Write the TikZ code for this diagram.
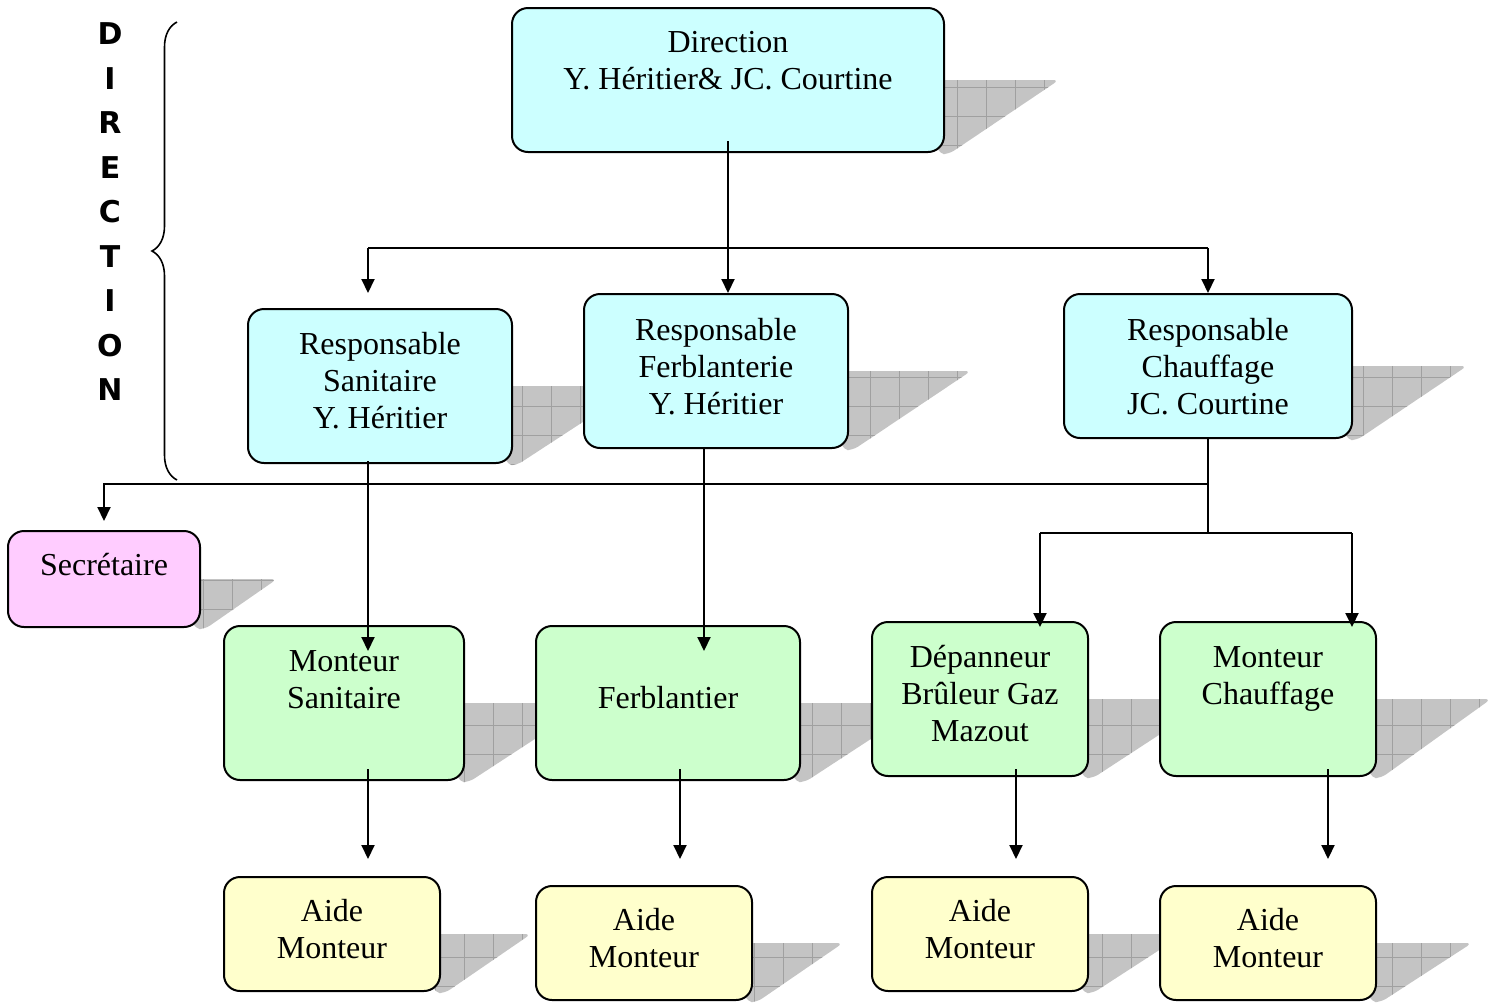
\documentclass[tikz,border=0pt]{standalone}
\usepackage{fontspec}
\setmainfont{Liberation Serif}
\newfontfamily\dirfont{DejaVu Sans}
\usetikzlibrary{calc,fit,arrows.meta,decorations.pathreplacing}
\pgfdeclarelayer{background}
\pgfsetlayers{background,main}
\definecolor{cyanbox}{HTML}{CCFFFF}
\definecolor{pinkbox}{HTML}{FFCCFF}
\definecolor{greenbox}{HTML}{CCFFCC}
\definecolor{yellowbox}{HTML}{FFFFCC}
\definecolor{shadowgray}{HTML}{C4C4C4}
\definecolor{gridgray}{HTML}{A0A0A0}
\tikzset{
  boxst/.style={draw, line width=1pt, rounded corners=8pt, inner sep=0pt},
  lbl/.style={align=center, font=\fontsize{16}{18.5}\selectfont, inner sep=0pt},
  conn/.style={line width=1pt},
  arr/.style={conn, -{Triangle[length=7pt,width=6.5pt]}},
}
\newcommand\shad[2]{%
  \begin{pgfonlayer}{background}
  \begin{scope}
  \clip[rounded corners=3pt] ($(#1.east)+(-20,0)$) -- ($(#1.east)+(#2,0)$) -- ($(#1.south east)+(4,1)$) -- ($(#1.south east)+(-6,1)$) -- cycle;
  \fill[shadowgray] ($(#1.north east)+(-20,0)$) rectangle ($(#1.south east)+(#2+10,10)$);
  \draw[gridgray, line width=0.5pt, step=14.5pt] ($(#1.north east)+(-20,0)$) grid ($(#1.south east)+(#2+10,10)$);
  \end{scope}
  \end{pgfonlayer}}
\begin{document}
\begin{tikzpicture}[x=0.5pt, y=-0.5pt]
\useasboundingbox (0,0) rectangle (1490,1003);

% boxes
\node[boxst, fill=cyanbox, fit={(512,8) (944,152)}] (dir) {};
\node[boxst, fill=cyanbox, fit={(248,309) (512,463)}] (rs) {};
\node[boxst, fill=cyanbox, fit={(584,294) (848,448)}] (rf) {};
\node[boxst, fill=cyanbox, fit={(1064,294) (1352,438)}] (rc) {};
\node[boxst, fill=pinkbox, fit={(8,531) (200,627)}] (sec) {};
\node[boxst, fill=greenbox, fit={(224,626) (464,780)}] (ms) {};
\node[boxst, fill=greenbox, fit={(536,626) (800,780)}] (fb) {};
\node[boxst, fill=greenbox, fit={(872,622) (1088,776)}] (dep) {};
\node[boxst, fill=greenbox, fit={(1160,622) (1376,776)}] (mc) {};
\node[boxst, fill=yellowbox, fit={(224,877) (440,991)}] (a1) {};
\node[boxst, fill=yellowbox, fit={(536,886) (752,1000)}] (a2) {};
\node[boxst, fill=yellowbox, fit={(872,877) (1088,991)}] (a3) {};
\node[boxst, fill=yellowbox, fit={(1160,886) (1376,1000)}] (a4) {};

% shadows
\shad{dir}{114}
\shad{rs}{125}
\shad{rf}{122}
\shad{rc}{114}
\shad{sec}{76}
\shad{ms}{125}
\shad{fb}{125}
\shad{dep}{125}
\shad{mc}{114}
\shad{a1}{90}
\shad{a2}{90}
\shad{a3}{95}
\shad{a4}{95}

% labels
\node[lbl] (dir-t) at (728,61) {Direction\\Y. Héritier\& JC. Courtine};
\node[lbl] (rs-t) at (380,381) {Responsable\\Sanitaire\\Y. Héritier};
\node[lbl] (rf-t) at (716,367) {Responsable\\Ferblanterie\\Y. Héritier};
\node[lbl] (rc-t) at (1208,367) {Responsable\\Chauffage\\JC. Courtine};
\node[lbl] (sec-t) at (104,565) {Secrétaire};
\node[lbl] (ms-t) at (344,680) {Monteur\\Sanitaire};
\node[lbl] (fb-t) at (668,698) {Ferblantier};
\node[lbl] (dep-t) at (980,694) {Dépanneur\\Brûleur Gaz\\Mazout};
\node[lbl] (mc-t) at (1268,679) {Monteur\\Chauffage};
\node[lbl] (a1-t) at (332,929) {Aide\\Monteur};
\node[lbl] (a2-t) at (644,938) {Aide\\Monteur};
\node[lbl] (a3-t) at (980,929) {Aide\\Monteur};
\node[lbl] (a4-t) at (1268,938) {Aide\\Monteur};

% DIRECTION vertical label and brace
\node[align=center, inner sep=0pt, font={\dirfont\bfseries\fontsize{15}{22.25}\selectfont}] (dirlbl) at (110,212) {D\\I\\R\\E\\C\\T\\I\\O\\N};
\coordinate (brb) at (177,480);
\coordinate (brt) at (177,22);
\draw[line width=0.8pt, decorate, decoration={brace, amplitude=12.5pt}] (brb) -- (brt);

% connectors
\coordinate (j1) at (368,248);
\coordinate (j2) at (1208,248);
\draw[arr] ($(dir.south)+(0,-12)$) -- (dir.south |- rf.north);
\draw[conn] (j1) -- (j2);
\draw[arr] (j1) -- (j1 |- rc.north);
\draw[arr] (j2) -- (rc.north);

\draw[arr] ($(rs.south)+(-12,-3)$) -- ($(ms.north)+(24,26)$);
\draw[arr] ($(rf.south)+(-12,0)$) -- ($(fb.north)+(36,26)$);

\coordinate (j3) at (1208,484);
\coordinate (j4) at (1208,533);
\coordinate (j5) at (1040,533);
\coordinate (j6) at (1352,533);
\draw[conn] (rc.south) -- (j4);
\draw[arr] (j3) -| ($(sec.north)+(0,-9)$);
\draw[conn] (j5) -- (j6);
\draw[arr] (j5) -- ($(dep.north)+(60,6)$);
\draw[arr] (j6) -- ($(mc.north)+(84,6)$);

\draw[arr] ($(ms.south)+(24,-12)$) -- ($(a1.north)+(36,-17)$);
\draw[arr] ($(fb.south)+(12,-12)$) -- ($(a2.north)+(36,-26)$);
\draw[arr] ($(dep.south)+(36,-8)$) -- ($(a3.north)+(36,-17)$);
\draw[arr] ($(mc.south)+(60,-8)$) -- ($(a4.north)+(60,-26)$);
\end{tikzpicture}
\end{document}
